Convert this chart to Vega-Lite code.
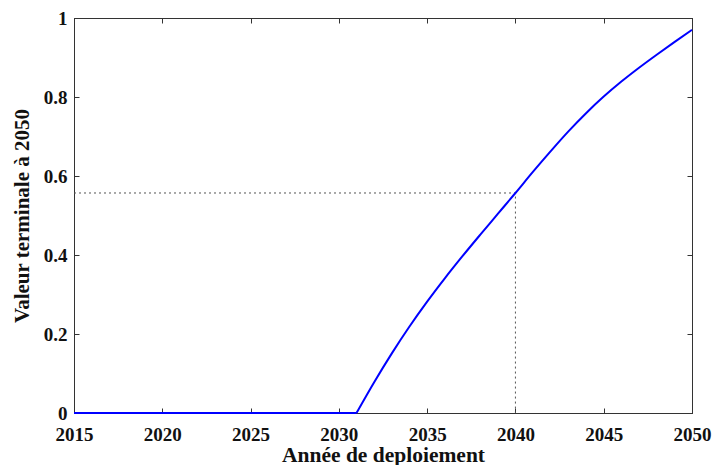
{
  "$schema": "https://vega.github.io/schema/vega-lite/v6.json",
  "width": 618,
  "height": 395,
  "autosize": {"type": "none"},
  "padding": {"left": 74, "top": 18, "right": 29, "bottom": 52},
  "background": "white",
  "config": {
    "view": {"stroke": "#333", "strokeWidth": 1},
    "axis": {
      "labelFont": "Liberation Serif",
      "labelFontWeight": "bold",
      "labelFontSize": 19,
      "labelColor": "#111",
      "titleFont": "Liberation Serif",
      "titleFontWeight": "bold",
      "titleColor": "#111",
      "domainColor": "#333",
      "tickColor": "#333",
      "tickSize": -5,
      "grid": false
    }
  },
  "datasets": {
    "curve": [
      {"seg": "flat", "year": 2015, "value": 0},
      {"seg": "flat", "year": 2020, "value": 0},
      {"seg": "flat", "year": 2025, "value": 0},
      {"seg": "flat", "year": 2030, "value": 0},
      {"seg": "flat", "year": 2031, "value": 0},
      {"seg": "rise", "year": 2031, "value": 0},
      {"seg": "rise", "year": 2032, "value": 0.078},
      {"seg": "rise", "year": 2033, "value": 0.151},
      {"seg": "rise", "year": 2034, "value": 0.219},
      {"seg": "rise", "year": 2035, "value": 0.282},
      {"seg": "rise", "year": 2036, "value": 0.341},
      {"seg": "rise", "year": 2037, "value": 0.397},
      {"seg": "rise", "year": 2038, "value": 0.451},
      {"seg": "rise", "year": 2039, "value": 0.504},
      {"seg": "rise", "year": 2040, "value": 0.557},
      {"seg": "rise", "year": 2041, "value": 0.611},
      {"seg": "rise", "year": 2042, "value": 0.663},
      {"seg": "rise", "year": 2043, "value": 0.713},
      {"seg": "rise", "year": 2044, "value": 0.759},
      {"seg": "rise", "year": 2045, "value": 0.801},
      {"seg": "rise", "year": 2046, "value": 0.839},
      {"seg": "rise", "year": 2047, "value": 0.874},
      {"seg": "rise", "year": 2048, "value": 0.907},
      {"seg": "rise", "year": 2049, "value": 0.939},
      {"seg": "rise", "year": 2050, "value": 0.97}
    ],
    "guide": [
      {"x": 2015, "y": 0.557, "o": 1},
      {"x": 2040, "y": 0.557, "o": 2},
      {"x": 2040, "y": 0, "o": 3}
    ]
  },
  "layer": [
    {
      "data": {"name": "guide"},
      "mark": {"type": "line", "color": "#555", "strokeWidth": 1, "strokeDash": [2, 3]},
      "encoding": {
        "x": {"field": "x", "type": "quantitative", "scale": {"domain": [2015, 2050], "nice": false},
              "axis": {"orient": "top", "labels": false, "title": null, "values": [2015, 2020, 2025, 2030, 2035, 2040, 2045, 2050]}},
        "y": {"field": "y", "type": "quantitative", "scale": {"domain": [0, 1], "nice": false},
              "axis": {"orient": "right", "labels": false, "title": null, "values": [0, 0.2, 0.4, 0.6, 0.8, 1]}},
        "order": {"field": "o"}
      }
    },
    {
      "data": {"name": "curve"},
      "mark": {"type": "line", "color": "#0000ff", "strokeWidth": 2, "interpolate": "monotone"},
      "encoding": {
        "x": {"field": "year", "type": "quantitative", "scale": {"domain": [2015, 2050], "nice": false},
              "axis": {"orient": "bottom", "title": "Année de deploiement", "format": "d", "labelPadding": 17, "titlePadding": 0, "titleFontSize": 21.5,
                       "values": [2015, 2020, 2025, 2030, 2035, 2040, 2045, 2050], "labelFlush": false}},
        "y": {"field": "value", "type": "quantitative", "scale": {"domain": [0, 1], "nice": false},
              "axis": {"orient": "left", "title": "Valeur terminale à 2050", "format": "~g", "labelPadding": 12, "titlePadding": 11, "titleFontSize": 21,
                       "values": [0, 0.2, 0.4, 0.6, 0.8, 1], "labelFlush": false}},
        "detail": {"field": "seg", "type": "nominal"}
      }
    }
  ],
  "resolve": {"axis": {"x": "independent", "y": "independent"}}
}
